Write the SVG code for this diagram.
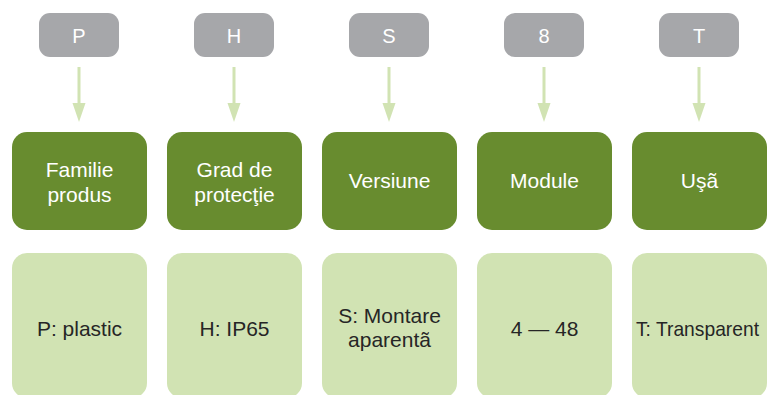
<svg xmlns="http://www.w3.org/2000/svg" width="767" height="395" viewBox="0 0 767 395">
<style>
text{font-family:"Liberation Sans",Arial,sans-serif;font-size:21px;text-anchor:middle}
.code rect{fill:#a6a7aa}
.code text{fill:#ffffff;font-size:20px}
.cat rect{fill:#688c2f}
.cat text{fill:#ffffff}
.val rect{fill:#d1e3b3}
.val text{fill:#262626}
.conn line{stroke:#d1e3b3;stroke-width:3}
.conn path{fill:#d1e3b3}
</style>
<rect width="767" height="395" fill="#ffffff"/>
<g id="connectors" class="conn">
<line x1="79" y1="67" x2="79" y2="106"/><path d="M72.5,103 L85.5,103 L79,122 Z"/>
<line x1="234" y1="67" x2="234" y2="106"/><path d="M227.5,103 L240.5,103 L234,122 Z"/>
<line x1="389" y1="67" x2="389" y2="106"/><path d="M382.5,103 L395.5,103 L389,122 Z"/>
<line x1="544" y1="67" x2="544" y2="106"/><path d="M537.5,103 L550.5,103 L544,122 Z"/>
<line x1="699" y1="67" x2="699" y2="106"/><path d="M692.5,103 L705.5,103 L699,122 Z"/>
</g>
<g id="code-P" class="code"><rect x="39" y="13" width="80" height="44" rx="11"/><text x="79" y="43">P</text></g>
<g id="code-H" class="code"><rect x="194" y="13" width="80" height="44" rx="11"/><text x="234" y="43">H</text></g>
<g id="code-S" class="code"><rect x="349" y="13" width="80" height="44" rx="11"/><text x="389" y="43">S</text></g>
<g id="code-8" class="code"><rect x="504" y="13" width="80" height="44" rx="11"/><text x="544" y="43">8</text></g>
<g id="code-T" class="code"><rect x="659" y="13" width="80" height="44" rx="11"/><text x="699" y="43">T</text></g>
<g id="cat-familie" class="cat"><rect x="12" y="132" width="135" height="98" rx="15"/><text x="79.5" y="177">Familie</text><text x="79.5" y="202">produs</text></g>
<g id="cat-grad" class="cat"><rect x="167" y="132" width="135" height="98" rx="15"/><text x="234.5" y="177">Grad de</text><text x="234.5" y="202">protecţie</text></g>
<g id="cat-versiune" class="cat"><rect x="322" y="132" width="135" height="98" rx="15"/><text x="389.5" y="188">Versiune</text></g>
<g id="cat-module" class="cat"><rect x="477" y="132" width="135" height="98" rx="15"/><text x="544.5" y="188">Module</text></g>
<g id="cat-usa" class="cat"><rect x="632" y="132" width="135" height="98" rx="15"/><text x="699.5" y="188">Uşã</text></g>
<g id="val-plastic" class="val"><rect x="12" y="253" width="135" height="145" rx="15"/><text x="79.5" y="336">P: plastic</text></g>
<g id="val-ip65" class="val"><rect x="167" y="253" width="135" height="145" rx="15"/><text x="234.5" y="336">H: IP65</text></g>
<g id="val-montare" class="val"><rect x="322" y="253" width="135" height="145" rx="15"/><text x="389.5" y="323">S: Montare</text><text x="389.5" y="347">aparentã</text></g>
<g id="val-module" class="val"><rect x="477" y="253" width="135" height="145" rx="15"/><text x="544.5" y="336">4 — 48</text></g>
<g id="val-transparent" class="val"><rect x="632" y="253" width="135" height="145" rx="15"/><text x="697.5" y="336" textLength="123" lengthAdjust="spacingAndGlyphs">T: Transparent</text></g>
</svg>
